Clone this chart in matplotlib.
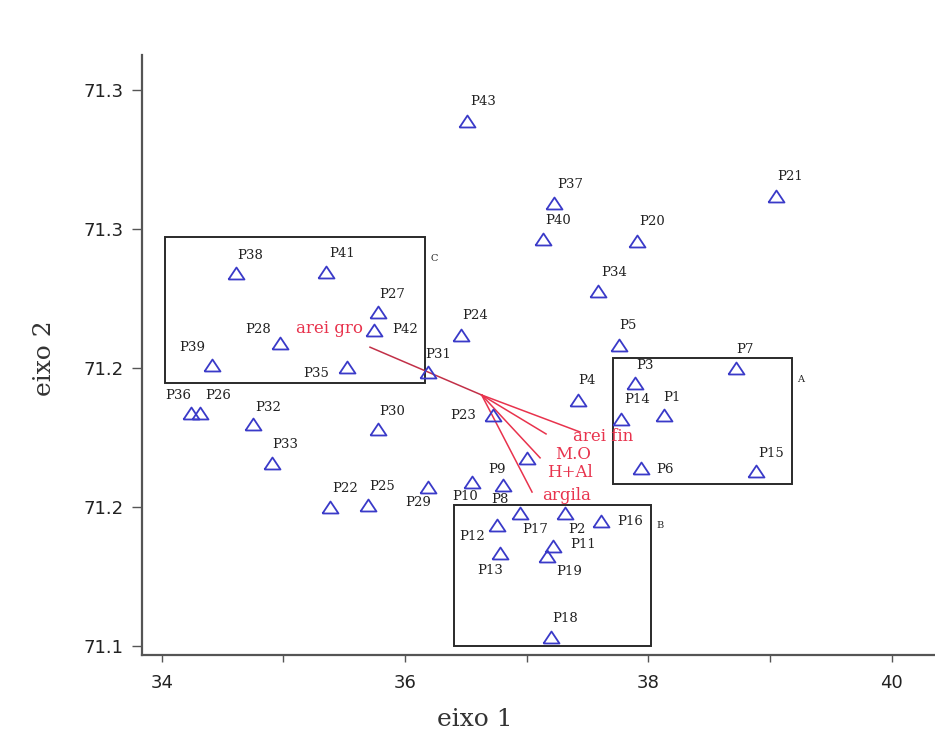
import matplotlib
matplotlib.use('Agg')
import matplotlib.pyplot as plt
from matplotlib.patches import Rectangle

# ---------------- data ----------------
labels = ['P%d' % i for i in range(1, 44)]
eixo1 = [38.128, 37.315, 37.890, 37.419, 37.759, 37.937, 38.720, 36.805, 37.000, 36.548,
         37.216, 36.753, 36.780, 37.775, 38.882, 37.611, 36.945, 37.197, 37.164, 37.904,
         39.049, 35.383, 36.723, 36.460, 35.698, 34.315, 35.775, 34.972, 36.191, 35.780,
         36.191, 34.753, 34.904, 37.588, 35.520, 34.238, 37.224, 34.611, 34.411, 37.131,
         35.348, 35.747, 36.507]
eixo2 = [71.1831, 71.1480, 71.1946, 71.1885, 71.2083, 71.1641, 71.2001, 71.1580, 71.1677, 71.1591,
         71.1360, 71.1436, 71.1334, 71.1817, 71.1631, 71.1451, 71.1480, 71.1034, 71.1324, 71.2458,
         71.2619, 71.1499, 71.1831, 71.2119, 71.1508, 71.1837, 71.2203, 71.2089, 71.1573, 71.1780,
         71.1987, 71.1799, 71.1660, 71.2277, 71.2005, 71.1837, 71.2595, 71.2341, 71.2011, 71.2463,
         71.2345, 71.2137, 71.2890]

# environmental vectors
vec_names = ['arei gro', 'arei fin', 'M.O', 'H+Al', 'argila']
vec_origin = (36.630, 71.1903)
vec_x = [35.712, 37.438, 37.159, 37.110, 37.044]
vec_y = [71.2075, 71.1770, 71.1763, 71.1677, 71.1554]

# groups (rectangles): name, x0, x1, y0, y1
group_names = ['A', 'B', 'C']
group_x0 = [37.709, 36.402, 34.027]
group_x1 = [39.180, 38.022, 36.164]
group_y0 = [71.1583, 71.1000, 71.1945]
group_y1 = [71.2036, 71.1508, 71.2471]

xticks_major = [34, 36, 38, 40]
xticks_minor = [35, 37, 39]
yticks = [71.10, 71.15, 71.20, 71.25, 71.30]
ytick_labels = ['71.1', '71.2', '71.2', '71.3', '71.3']

# ---------------- layout / style ----------------
# label offsets (pixels, image convention: +dx right, +dy down)
label_off = [(8, -18), (12, 17), (10, -18), (9, -20), (9, -19), (24, 2), (9, -18), (-3, 15),
             (-30, 12), (-7, 15), (30, -1), (-25, 12), (-10, 17), (16, -19), (15, -17), (29, 1),
             (15, 17), (14, -18), (23, 16), (15, -19), (14, -19), (15, -19), (-30, 0), (14, -19),
             (14, -18), (18, -18), (15, -17), (-22, -14), (-10, 16), (14, -18), (10, -17), (15, -16),
             (14, -18), (16, -19), (-30, 7), (-12, -18), (16, -18), (14, -18), (-19, -17), (15, -19),
             (16, -19), (31, 0), (16, -19)]
vec_label_off = [(-7, -19, 'right'), (-7, 5, 'left'), (9, 21, 'left'), (7, 15, 'left'), (10, 3, 'left')]
vec_colors = ['#c23048', '#e8334d', '#e8334d', '#e8334d', '#e8334d']

SERIF = ['DejaVu Serif']
SANS = ['DejaVu Sans']
BLUE = '#3a3ac8'
RED = '#e8334d'

fig = plt.figure(figsize=(9.35, 7.36), dpi=100)
ax = fig.add_axes([0.1516, 0.1101, 0.8484, 0.8152])
ax.set_xlim(33.836, 40.356)
ax.set_ylim(71.0968, 71.3126)

tri = [(-1, -0.75), (1, -0.75), (0, 0.75), (-1, -0.75)]
ax.plot(eixo1, eixo2, linestyle='none', marker=tri, markersize=11.5,
        markerfacecolor='none', markeredgecolor=BLUE, markeredgewidth=1.3, zorder=4)

for lab, x, y, (dx, dy) in zip(labels, eixo1, eixo2, label_off):
    ax.annotate(lab, (x, y), xytext=(dx, -dy), textcoords='offset pixels',
                ha='center', va='center', fontsize=9.5, family=SERIF, color='#222222', zorder=5)

# vectors
for name, x, y, c, (dx, dy, ha) in zip(vec_names, vec_x, vec_y, vec_colors, vec_label_off):
    ax.plot([vec_origin[0], x], [vec_origin[1], y], color=c, linewidth=1.1, zorder=3)
    ax.annotate(name, (x, y), xytext=(dx, -dy), textcoords='offset pixels',
                ha=ha, va='center', fontsize=12, family=SERIF, color=RED, zorder=6)

# group rectangles
for g, x0, x1, y0, y1 in zip(group_names, group_x0, group_x1, group_y0, group_y1):
    ax.add_patch(Rectangle((x0, y0), x1 - x0, y1 - y0, fill=False,
                           edgecolor='#2a2a2a', linewidth=1.4, zorder=2))
    ax.annotate(g, (x1, y1), xytext=(9, -21), textcoords='offset pixels',
                ha='center', va='center', fontsize=7, family=SERIF, color='#222222')

# axes styling
for s in ['top', 'right']:
    ax.spines[s].set_visible(False)
for s in ['left', 'bottom']:
    ax.spines[s].set_color('#555555')
    ax.spines[s].set_linewidth(1.6)

ax.set_xticks(xticks_major)
ax.set_xticks(xticks_minor, minor=True)
ax.set_xticklabels([str(v) for v in xticks_major], family=SANS, fontsize=13, color='#222222')
ax.set_yticks(yticks)
ax.set_yticklabels(ytick_labels, family=SANS, fontsize=13, color='#222222')
ax.tick_params(axis='x', which='both', length=5, width=1, color='#555555', pad=9)
ax.tick_params(axis='y', length=7, width=1, color='#555555', pad=6)

ax.set_xlabel('eixo 1', family=SERIF, fontsize=18, color='#333333')
ax.set_ylabel('eixo 2', family=SERIF, fontsize=18, color='#333333')
ax.xaxis.set_label_coords(0.42, -0.108)
ax.xaxis.label.set_va('center')
ax.yaxis.set_label_coords(-0.122, 0.495)
ax.yaxis.label.set_va('center')

fig.savefig('out.png', dpi=100, facecolor='white')
